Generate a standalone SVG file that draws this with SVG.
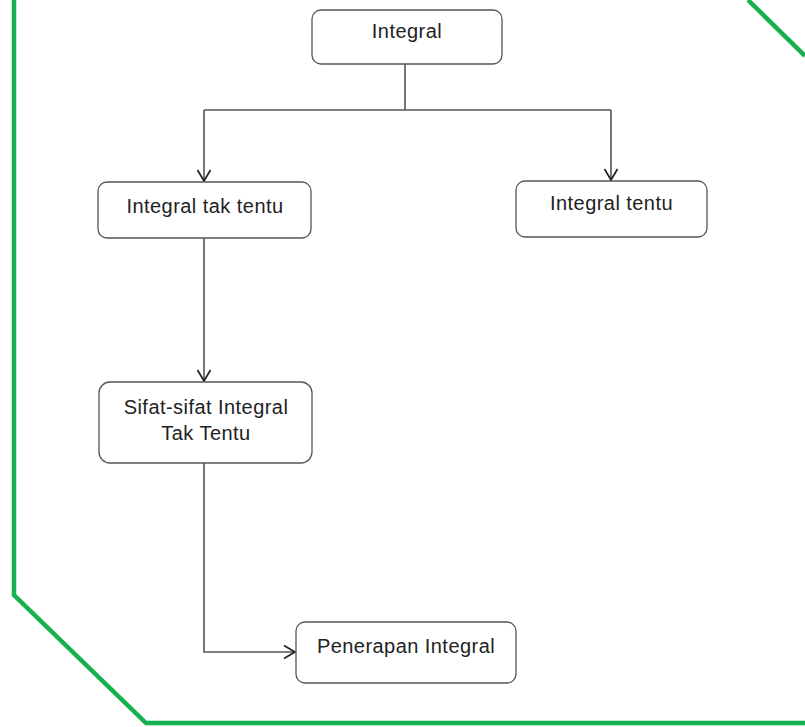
<svg xmlns="http://www.w3.org/2000/svg" width="805" height="727" viewBox="0 0 805 727">
<defs>
<style>
.box{fill:#fff;stroke:#555;stroke-width:1.3}
.lbl{font-family:"Liberation Sans",Arial,sans-serif;font-size:20px;letter-spacing:0.45px;fill:#222;text-anchor:middle}
.edge{fill:none;stroke:#555;stroke-width:1.6}
.border{fill:none;stroke:#17b04f;stroke-width:4.5}
</style>
<marker id="arr" markerWidth="16" markerHeight="16" refX="13" refY="8" orient="auto" markerUnits="userSpaceOnUse">
<path d="M2,1.5 L13,8 L2,14.5" fill="none" stroke="#222" stroke-width="1.7"/>
</marker>
</defs>
<rect width="805" height="727" fill="#fff"/>
<path class="border" d="M14,0 L14,595 L146,723 L805,723"/>
<path class="border" d="M748,0 L805,56"/>
<g id="connectors">
<path class="edge" d="M405,64 L405,110"/>
<path class="edge" d="M204,110 L611,110"/>
<path class="edge" d="M204,110 L204,181" marker-end="url(#arr)"/>
<path class="edge" d="M611,110 L611,180" marker-end="url(#arr)"/>
<path class="edge" d="M204,238 L204,381" marker-end="url(#arr)"/>
<path class="edge" d="M204,463 L204,652 L295,652" marker-end="url(#arr)"/>
</g>
<g id="n-integral">
<rect class="box" x="312" y="10" width="190" height="54" rx="9"/>
<text class="lbl" x="407" y="38">Integral</text>
</g>
<g id="n-tak-tentu">
<rect class="box" x="98" y="182" width="213" height="56" rx="9"/>
<text class="lbl" x="205" y="213">Integral tak tentu</text>
</g>
<g id="n-tentu">
<rect class="box" x="516" y="181" width="191" height="56" rx="9"/>
<text class="lbl" x="611.5" y="210">Integral tentu</text>
</g>
<g id="n-sifat">
<rect class="box" x="99" y="382" width="213" height="81" rx="11"/>
<text class="lbl" x="206" y="414">Sifat-sifat Integral</text>
<text class="lbl" x="206" y="440">Tak Tentu</text>
</g>
<g id="n-penerapan">
<rect class="box" x="296" y="622" width="220" height="61" rx="9"/>
<text class="lbl" x="406" y="653">Penerapan Integral</text>
</g>
</svg>
